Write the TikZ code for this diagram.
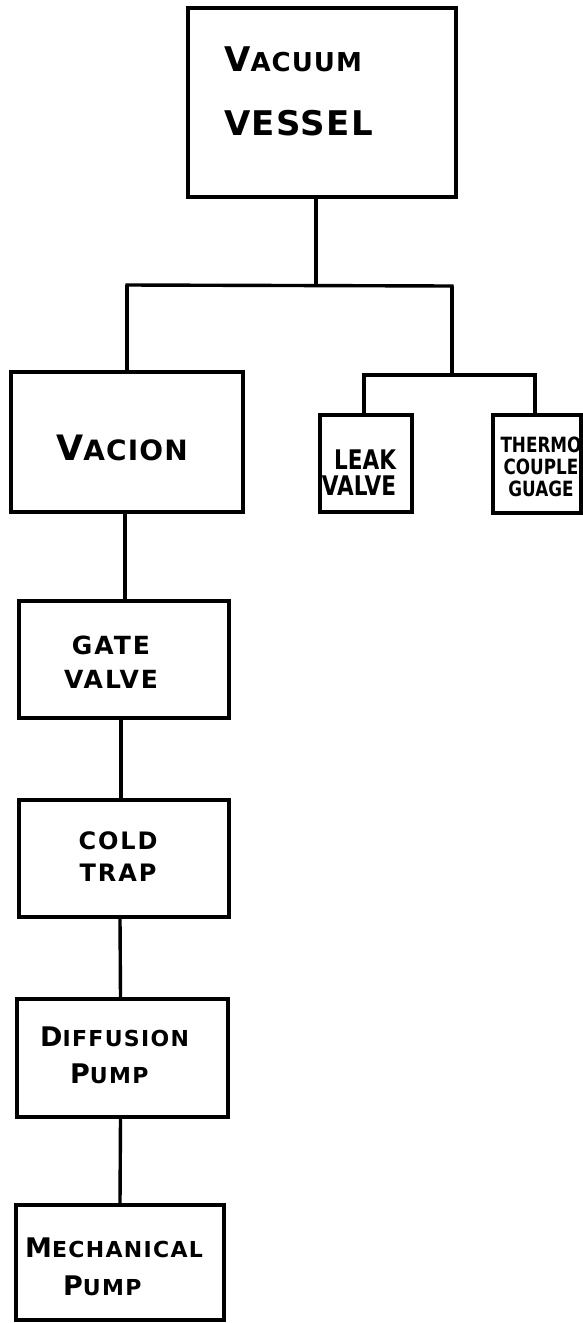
\documentclass[tikz,border=0pt]{standalone}
\usepackage{fontspec}
\setmainfont{DejaVu Sans}
\usepackage{graphicx}
\newcommand\FS[2]{\fontsize{#1}{#2}\selectfont}
\newcommand\scw[4]{{\FS{#1}{#1}#2}{\FS{#3}{#3}#4}}
\newcommand\sqz[1]{\scalebox{0.8}[1]{#1}}
\begin{document}
\begin{tikzpicture}[x=1pt,y=-1pt,
  box/.style={draw, line width=4pt, inner sep=0pt, rectangle},
  wire/.style={line width=3.4pt},
  lbl/.style={font=\bfseries, align=center, inner sep=0pt}]
\useasboundingbox (0,0) rectangle (583,1323);
\fill[white] (0,0) rectangle (583,1323);

% boxes
\node[box, minimum width=268pt, minimum height=189pt] (vv) at (322,102.5) {};
\node[box, minimum width=232pt, minimum height=140pt] (vac) at (127,442) {};
\node[box, minimum width=92pt, minimum height=97pt] (leak) at (366,463.5) {};
\node[box, minimum width=88pt, minimum height=98pt] (thermo) at (537,464) {};
\node[box, minimum width=210pt, minimum height=117pt] (gate) at (124,659.5) {};
\node[box, minimum width=210pt, minimum height=117pt] (cold) at (124,858.5) {};
\node[box, minimum width=211pt, minimum height=118pt] (diff) at (122.5,1058) {};
\node[box, minimum width=208pt, minimum height=115pt] (mech) at (120,1262.5) {};

% labels
\node[lbl, align=left, anchor=west, font=\bfseries\FS{34}{64}\addfontfeatures{LetterSpace=4}] (vvt) at (224,91)
  {\scw{34}{V}{26}{ACUUM}\\VESSEL};
\node[lbl, font=\bfseries\addfontfeatures{LetterSpace=4}] (vact) at (122,448) {\scw{35}{V}{28}{ACION}};
\node[lbl, font=\bfseries\FS{25}{34}\addfontfeatures{LetterSpace=8}] (gatet) at (111,662) {GATE\\VALVE};
\node[lbl, font=\bfseries\FS{24}{32}\addfontfeatures{LetterSpace=8}] (coldt) at (118,857) {COLD\\TRAP};
\node[lbl, align=left, anchor=west, font=\bfseries\FS{22}{37}\addfontfeatures{LetterSpace=6}] (difft) at (40,1055) {\scw{27}{D}{22}{IFFUSION}\\\hspace*{30pt}\scw{27}{P}{22}{UMP}};
\node[lbl, align=left, anchor=west, font=\bfseries\FS{22}{38}\addfontfeatures{LetterSpace=6}] (mecht) at (25,1267) {\scw{27}{M}{22}{ECHANICAL}\\\hspace*{38pt}\scw{27}{P}{22}{UMP}};
\node[lbl, align=right, font=\bfseries\FS{27}{26}] (leakt) at (359,473) {\sqz{LEAK}\\\sqz{VALVE}};
\node[lbl, font=\bfseries\FS{21}{22}] (thermot) at (541,467) {\scalebox{0.8}[1]{THERMO}\\\scalebox{0.8}[1]{COUPLE}\\\scalebox{0.8}[1]{GUAGE}};

% connector coordinates
\coordinate (b0) at (316,285);
\coordinate (bl) at (127,285);
\coordinate (br) at (452,286);
\coordinate (sb) at (452,375);
\coordinate (sl) at (364,375);
\coordinate (sr) at (535,375);

% connectors
\draw[wire] ([xshift=-6pt]vv.south) -- (b0);
\draw[wire, line cap=rect] (bl) -- (br);
\draw[wire] (bl) -- (bl |- vac.north);
\draw[wire] (br) -- (sb);
\draw[wire, line cap=rect] (sl) -- (sr);
\draw[wire] (sl) -- (sl |- leak.north);
\draw[wire] (sr) -- (sr |- thermo.north);
\draw[wire] ([xshift=-2pt]vac.south) -- ([xshift=1pt]gate.north);
\draw[wire] ([xshift=-3pt]gate.south) -- ([xshift=-3pt]cold.north);
\draw[wire] ([xshift=-4pt]cold.south) -- ([xshift=-2pt]diff.north);
\draw[wire] ([xshift=-2pt]diff.south) -- (mech.north);
\end{tikzpicture}
\end{document}
